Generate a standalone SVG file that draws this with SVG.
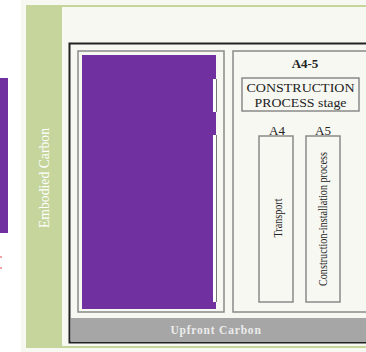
<svg xmlns="http://www.w3.org/2000/svg" width="366" height="352" viewBox="0 0 366 352">
<style>
.box{fill:none;stroke:#8a8a8a;stroke-width:1.5}
.t{font-family:"Liberation Serif",serif;fill:#222}
.b{font-weight:bold}
</style>
<rect width="366" height="352" fill="#ffffff"/>
<g id="left-strip">
<rect x="0" y="78" width="8" height="155" fill="#7030a0"/>
<rect x="0" y="256" width="2" height="2" fill="#f2a3a3"/>
<rect x="0" y="267" width="2" height="2" fill="#f2a3a3"/>
</g>
<g id="background">
<rect x="21" y="0" width="345" height="352" fill="#f7f8f2"/>
<rect x="26" y="5" width="36" height="343" fill="#c5d59b"/>
<rect x="62" y="5" width="304" height="2" fill="#c5d59b"/>
<rect x="62" y="346" width="304" height="2" fill="#c5d59b"/>
<text class="t" transform="translate(49,178) rotate(-90)" text-anchor="middle" font-size="15" style="fill:#ffffff" textLength="100" lengthAdjust="spacingAndGlyphs">Embodied Carbon</text>
</g>
<g id="frame">
<rect x="69.5" y="43.5" width="300" height="299" fill="#f7f8f2" stroke="#222" stroke-width="2"/>
<rect x="71" y="318" width="295" height="24" fill="#a6a6a6"/>
<text class="t b" x="216" y="334" text-anchor="middle" font-size="11.5" style="fill:#ececec" letter-spacing="0.8">Upfront Carbon</text>
</g>
<g id="left-panel">
<rect class="box" x="78" y="51" width="146" height="261"/>
<rect x="82" y="55" width="134" height="254" fill="#7030a0"/>
<rect x="213" y="79" width="3" height="33" fill="#ffffff"/>
<rect x="213" y="135" width="3" height="167" fill="#ffffff"/>
<line x1="216.5" y1="79" x2="216.5" y2="112" stroke="#777" stroke-width="1"/>
<line x1="216.5" y1="135" x2="216.5" y2="302" stroke="#777" stroke-width="1"/>
</g>
<g id="A4-5">
<rect class="box" x="233" y="51" width="140" height="261"/>
<text class="t b" x="305" y="68" text-anchor="middle" font-size="13">A4-5</text>
</g>
<g id="construction-stage">
<rect class="box" x="242" y="78" width="117" height="33"/>
<text class="t" x="300.5" y="92" text-anchor="middle" font-size="12.5" textLength="108" lengthAdjust="spacingAndGlyphs">CONSTRUCTION</text>
<text class="t" x="300.5" y="107" text-anchor="middle" font-size="12.5" textLength="92" lengthAdjust="spacingAndGlyphs">PROCESS stage</text>
</g>
<g id="A4">
<text class="t" x="277" y="135" text-anchor="middle" font-size="13">A4</text>
<rect class="box" x="259" y="136" width="34" height="166"/>
<text class="t" transform="translate(282,218) rotate(-90)" text-anchor="middle" font-size="12" textLength="39" lengthAdjust="spacingAndGlyphs">Transport</text>
</g>
<g id="A5">
<text class="t" x="323" y="135" text-anchor="middle" font-size="13">A5</text>
<rect class="box" x="306" y="136" width="34" height="166"/>
<text class="t" transform="translate(327,219) rotate(-90)" text-anchor="middle" font-size="12.5" textLength="134" lengthAdjust="spacingAndGlyphs">Construction-installation process</text>
</g>
<g id="connectors"></g>
</svg>
